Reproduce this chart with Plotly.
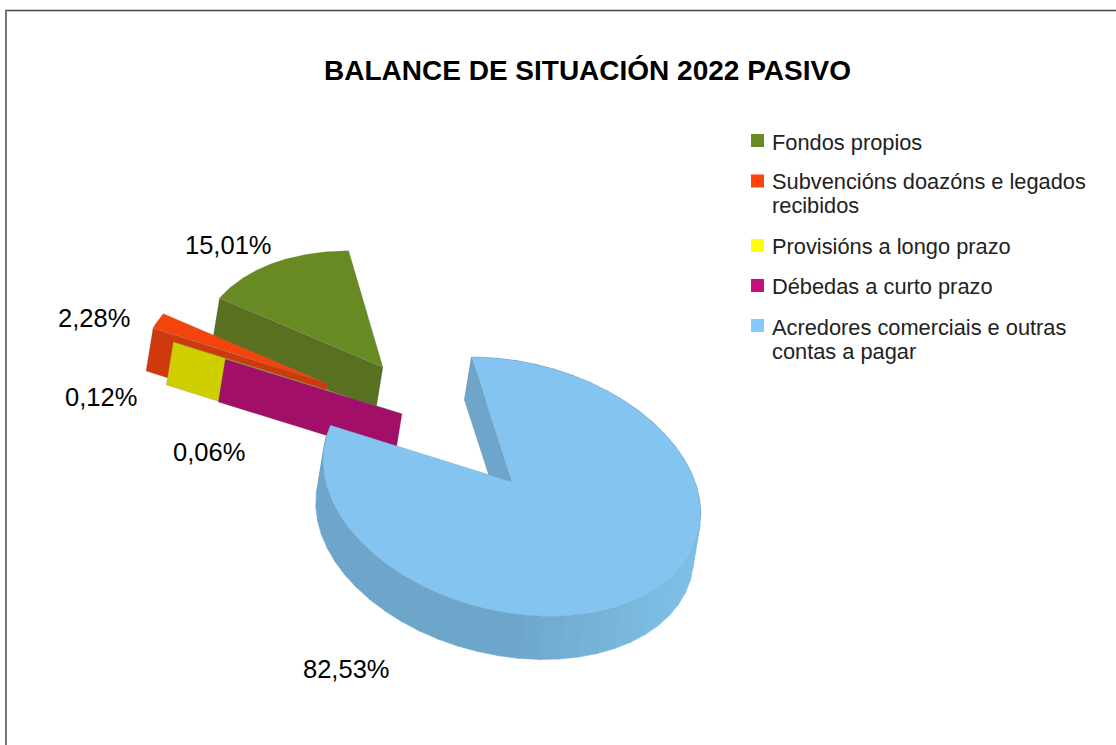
import numpy as np
import plotly.graph_objects as go

# ---- data ----
categories = ["Fondos propios", "Subvencións doazóns e legados<br>recibidos",
              "Provisións a longo prazo", "Débedas a curto prazo",
              "Acredores comerciais e outras<br>contas a pagar"]
values = [15.01, 2.28, 0.12, 0.06, 82.53]
value_labels = ["15,01%", "2,28%", "0,12%", "0,06%", "82,53%"]
pulls = [0.555, 0.69, 0.55, 0.25, 0.50]

# ---- style ----
top_colors = ["#678a22", "#f4440e", "#cfcf00", "#a10f68", "#83c5f0"]
cut_colors = ["#587020", "#cf3a0c", "#cfcf00", "#a10f68", "#6ea6cb"]
legend_colors = ["#678a22", "#ff420e", "#ffff00", "#c5127f", "#83caff"]
label_xy = [(228, 245), (94, 318), (101, 397), (209, 452), (346, 669)]
legend_y = [140.5, 181, 245.5, 285.5, 325.5]
legend_text_y = [142, 181.5, 246, 286, 327]
LEGEND_LINE = 24

START = -12.0                        # degrees clockwise from "up"
OX, OY = 446.8, 427.8                # pie centre before explosion
AX, AY = 186.0, 24.5                 # screen vector of plane +u
BX, BY = 0.0, -123.0                 # screen vector of plane +v
K = 0.04                             # perspective
DX, DY = -7.0, 43.0                  # depth vector


def project(u, v):
    w = 1 + K * v
    return OX + (AX * u + BX * v) / w, OY + (AY * u + BY * v) / w


fig = go.Figure()


def poly(xs, ys, color, line="rgba(120,120,120,0.35)"):
    xs, ys = list(xs), list(ys)
    fig.add_trace(go.Scatter(x=xs + xs[:1], y=ys + ys[:1], mode="lines", fill="toself", fillcolor=color,
                             line=dict(color=line, width=0.6), hoverinfo="skip", showlegend=False))


total = sum(values)
angle = START
for i, val in enumerate(values):
    span = val / total * 360.0
    a0, a1 = angle, angle - span       # counter-clockwise
    angle = a1
    mid = np.radians((a0 + a1) / 2)
    cu, cv = pulls[i] * np.sin(mid), pulls[i] * np.cos(mid)
    th = np.radians(np.linspace(a0, a1, max(int(span * 2), 4)))
    u = cu + np.sin(th)
    v = cv + np.cos(th)
    ex0, ey0 = project(cu, cv)
    tx, ty = project(u, v)
    if i == 4:
        # rim, shaded along the front arc
        for j in range(0, len(u) - 1, 12):
            k = min(j + 13, len(u) - 1)
            frac = np.clip((tx[j] - 500) / 170, 0, 1)
            col = "rgb(%d,%d,%d)" % (110 + 16 * frac, 166 + 24 * frac, 203 + 26 * frac)
            xs = list(tx[j:k + 1]) + list(tx[j:k + 1][::-1] + DX)
            ys = list(ty[j:k + 1]) + list(ty[j:k + 1][::-1] + DY)
            poly(xs, ys, col, line=col)
    # cut face at the counter-clockwise end
    poly([ex0, tx[-1], tx[-1] + DX, ex0 + DX], [ey0, ty[-1], ty[-1] + DY, ey0 + DY], cut_colors[i])
    poly([ex0] + list(tx), [ey0] + list(ty), top_colors[i])

# legend swatches
fig.add_trace(go.Scatter(x=[757.5] * 5, y=legend_y, mode="markers", showlegend=False, hoverinfo="skip",
                         marker=dict(symbol="square", size=13, color=legend_colors, line=dict(width=0))))

ann = []
for (x, y), t in zip(label_xy, value_labels):
    ann.append(dict(x=x, y=y, text=t, showarrow=False, font=dict(size=25.5, color="#000000")))
for y, t in zip(legend_text_y, categories):
    for n, part in enumerate(t.split("<br>")):
        ann.append(dict(x=770, y=y + n * LEGEND_LINE, text=part, showarrow=False, xanchor="left", align="left",
                        font=dict(size=21.8, color="#222222")))
ann.append(dict(x=587, y=70, text="<b>BALANCE DE SITUACIÓN 2022 PASIVO</b>", showarrow=False,
                font=dict(size=28, color="#000000")))
for a in ann:
    a["xref"] = "x"
    a["yref"] = "y"

fig.update_layout(
    width=1116, height=745, margin=dict(l=0, r=0, t=0, b=0), autosize=False,
    paper_bgcolor="white", plot_bgcolor="white",
    font=dict(family="Liberation Sans"),
    xaxis=dict(range=[0, 1116], visible=False, fixedrange=True),
    yaxis=dict(range=[745, 0], visible=False, fixedrange=True),
    annotations=ann,
    shapes=[
        dict(type="line", xref="x", yref="y", x0=5, y0=10.5, x1=1116, y1=10.5,
             line=dict(color="#444444", width=1.5), layer="below"),
        dict(type="line", xref="x", yref="y", x0=6, y0=10, x1=6, y1=745,
             line=dict(color="#777777", width=2), layer="below"),
    ],
)
fig.write_html("out.html", config={"displayModeBar": False},
               post_script="document.body.style.margin='0';")
